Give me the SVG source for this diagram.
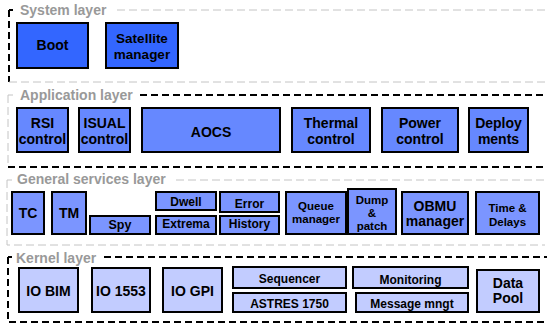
<svg xmlns="http://www.w3.org/2000/svg" width="547" height="324" viewBox="0 0 547 324">
<style>
.bx{stroke:#000;stroke-width:2}
.sys{fill:#3366ff}
.app{fill:#6688ff}
.gen{fill:#7b95ff}
.ker{fill:#c2ccff}
text{font-family:"Liberation Sans",Arial,sans-serif;font-weight:bold;fill:#000;text-anchor:middle}
.t14{font-size:14px}
.t135{font-size:13.5px}
.t12{font-size:12px}
.t115{font-size:11.5px}
.ttl{font-size:14px;fill:#999;text-anchor:start}
.bd{stroke:#000;stroke-width:2;stroke-dasharray:7,4;fill:none}
.gd{stroke:#c4c4c4;stroke-width:1;stroke-dasharray:8,4;fill:none}
</style>
<rect width="547" height="324" fill="#fff"/>
<g id="frames">
  <path class="bd" d="M9,10 H13 M9,10 V82"/>
  <path class="gd" d="M117,10 H547 M9,82 H545"/>
  <text class="ttl" x="20" y="15">System layer</text>
  <path class="gd" d="M8,95 H13 M8,95 V165"/>
  <path class="bd" d="M140,95 H547 M8,167 H547"/>
  <text class="ttl" x="20" y="100">Application layer</text>
  <path class="gd" d="M7,180 H12 M7,180 V245 H545 M176,180 H547"/>
  <text class="ttl" x="17" y="184">General services layer</text>
  <path class="bd" d="M8,257 H12 M8,257 V322 H547 M104,257 H547"/>
  <text class="ttl" x="16" y="263">Kernel layer</text>
</g>
<g id="connectors"></g>
<g id="boot"><rect class="bx sys" x="17" y="23" width="71" height="45"/><text class="t14" x="52.5" y="50">Boot</text></g>
<g id="satellite-manager"><rect class="bx sys" x="106" y="23" width="72" height="45"/><text class="t135" x="142" y="43">Satellite</text><text class="t135" x="142" y="58.5">manager</text></g>
<g id="rsi-control"><rect class="bx app" x="17" y="108" width="51" height="44"/><text class="t14" x="42.5" y="128">RSI</text><text class="t14" x="42.5" y="144">control</text></g>
<g id="isual-control"><rect class="bx app" x="79" y="108" width="51" height="44"/><text class="t14" x="104.5" y="128">ISUAL</text><text class="t14" x="104.5" y="144">control</text></g>
<g id="aocs"><rect class="bx app" x="142" y="108" width="138" height="44"/><text class="t14" x="211" y="137">AOCS</text></g>
<g id="thermal-control"><rect class="bx app" x="292" y="108" width="78" height="44"/><text class="t14" x="331" y="128">Thermal</text><text class="t14" x="331" y="144">control</text></g>
<g id="power-control"><rect class="bx app" x="382" y="108" width="76" height="44"/><text class="t14" x="420" y="128">Power</text><text class="t14" x="420" y="144">control</text></g>
<g id="deployments"><rect class="bx app" x="469" y="108" width="59" height="44"/><text class="t14" x="498.5" y="128">Deploy</text><text class="t14" x="498.5" y="144">ments</text></g>
<g id="tc"><rect class="bx gen" x="12" y="192" width="32" height="42"/><text class="t14" x="28" y="218">TC</text></g>
<g id="tm"><rect class="bx gen" x="52" y="192" width="34" height="42"/><text class="t14" x="69" y="218">TM</text></g>
<g id="spy"><rect class="bx gen" x="90" y="216" width="60" height="18"/><text class="t12" x="120" y="229" style="font-size:12.5px">Spy</text></g>
<g id="dwell"><rect class="bx gen" x="156" y="192" width="60" height="18"/><text class="t12" x="186" y="206">Dwell</text></g>
<g id="extrema"><rect class="bx gen" x="156" y="216" width="60" height="18"/><text class="t12" x="186" y="228">Extrema</text></g>
<g id="error"><rect class="bx gen" x="220" y="192" width="59" height="20"/><text class="t12" x="249.5" y="208">Error</text></g>
<g id="history"><rect class="bx gen" x="220" y="216" width="59" height="18"/><text class="t12" x="249.5" y="228">History</text></g>
<g id="queue-manager"><rect class="bx gen" x="286" y="192" width="60" height="42"/><text class="t115" x="316" y="210">Queue</text><text class="t115" x="316" y="223">manager</text></g>
<g id="dump-patch"><rect class="bx gen" x="348" y="189" width="48" height="45"/><text class="t115" x="372" y="204">Dump</text><text class="t115" x="372" y="217">&amp;</text><text class="t115" x="372" y="230">patch</text></g>
<g id="obmu-manager"><rect class="bx gen" x="402" y="192" width="66" height="42"/><text class="t14" x="435" y="211">OBMU</text><text class="t14" x="435" y="226">manager</text></g>
<g id="time-delays"><rect class="bx gen" x="476" y="192" width="63" height="42"/><text class="t115" x="507.5" y="212">Time &amp;</text><text class="t115" x="507.5" y="226">Delays</text></g>
<g id="io-bim"><rect class="bx ker" x="19" y="268" width="59" height="44"/><text class="t14" x="48.5" y="296">IO BIM</text></g>
<g id="io-1553"><rect class="bx ker" x="92" y="268" width="58" height="44"/><text class="t14" x="121" y="296">IO 1553</text></g>
<g id="io-gpi"><rect class="bx ker" x="163" y="268" width="59" height="44"/><text class="t14" x="192.5" y="296">IO GPI</text></g>
<g id="sequencer"><rect class="bx ker" x="233" y="267" width="113" height="21"/><text class="t12" x="289.5" y="283">Sequencer</text></g>
<g id="astres-1750"><rect class="bx ker" x="233" y="293" width="113" height="19"/><text class="t12" x="289.5" y="308">ASTRES 1750</text></g>
<g id="monitoring"><rect class="bx ker" x="353" y="267" width="115" height="21"/><text class="t12" x="410.5" y="284">Monitoring</text></g>
<g id="message-mngt"><rect class="bx ker" x="356" y="293" width="112" height="19"/><text class="t12" x="412" y="308">Message mngt</text></g>
<g id="data-pool"><rect class="bx ker" x="477" y="270" width="62" height="42"/><text class="t14" x="508" y="288">Data</text><text class="t14" x="508" y="303">Pool</text></g>
</svg>
